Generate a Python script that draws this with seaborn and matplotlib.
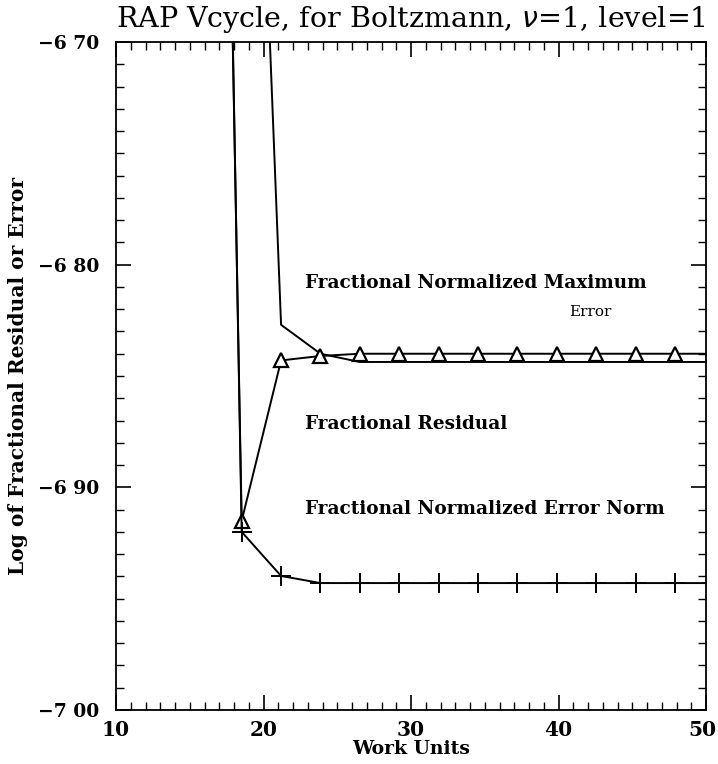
import matplotlib
matplotlib.use("Agg")
import matplotlib.pyplot as plt
import matplotlib.transforms as mtransforms
import seaborn as sns
import pandas as pd
from matplotlib.ticker import MultipleLocator, FixedLocator

sns.set_theme(style="white")
plt.rcParams['font.family'] = ['DejaVu Serif', 'DejaVu Sans']
plt.rcParams['text.color'] = 'black'
plt.rcParams['axes.labelcolor'] = 'black'
plt.rcParams['xtick.color'] = 'black'
plt.rcParams['ytick.color'] = 'black'

# Data
work_units = [15.85, 18.52, 21.19, 23.86, 26.53, 29.20, 31.87, 34.54, 37.21, 39.88, 42.55, 45.22, 47.89, 50.56]
frac_residual = [-5.97, -6.915, -6.843, -6.841, -6.840, -6.840, -6.840, -6.840, -6.840, -6.840, -6.840, -6.840, -6.840, -6.840]
frac_error_norm = [-5.94, -6.920, -6.9398, -6.943, -6.943, -6.943, -6.943, -6.943, -6.943, -6.943, -6.943, -6.943, -6.943, -6.943]
max_work_units = [18.52, 21.19, 23.86, 26.53, 29.20, 31.87, 34.54, 37.21, 39.88, 42.55, 45.22, 47.89, 50.56]
frac_max_error = [-6.38, -6.827, -6.840, -6.8437, -6.8437, -6.8437, -6.8437, -6.8437, -6.8437, -6.8437, -6.8437, -6.8437, -6.8437]

y_ticks = [-7.00, -6.90, -6.80, -6.70]
y_tick_labels = ["\u22127 00", "\u22126 90", "\u22126 80", "\u22126 70"]
x_ticks = [10, 20, 30, 40, 50]

df_res = pd.DataFrame({"x": work_units, "y": frac_residual})
df_norm = pd.DataFrame({"x": work_units, "y": frac_error_norm})
df_max = pd.DataFrame({"x": max_work_units, "y": frac_max_error})

fig = plt.figure(figsize=(7.18, 7.64), dpi=100)
ax = fig.add_axes([0.1616, 0.0707, 0.8217, 0.8743])

sns.lineplot(data=df_max, x="x", y="y", color="black", linewidth=1.4, ax=ax,
             sort=False, estimator=None)
sns.lineplot(data=df_res, x="x", y="y", color="black", linewidth=1.4, ax=ax,
             sort=False, estimator=None, marker="^", markersize=10.5,
             markerfacecolor="white", markeredgecolor="black", markeredgewidth=1.6)
sns.lineplot(data=df_norm, x="x", y="y", color="black", linewidth=1.4, ax=ax,
             sort=False, estimator=None, marker="+", markersize=14,
             markeredgecolor="black", markeredgewidth=1.4)

ax.set_xlim(10, 50)
ax.set_ylim(-7.00, -6.70)
ax.xaxis.set_major_locator(FixedLocator(x_ticks))
ax.xaxis.set_minor_locator(MultipleLocator(1))
ax.yaxis.set_major_locator(FixedLocator(y_ticks))
ax.yaxis.set_minor_locator(MultipleLocator(0.01))
ax.set_yticklabels(y_tick_labels)
ax.set_xticklabels([str(v) for v in x_ticks])

ax.tick_params(which="both", direction="in", top=True, right=True,
               bottom=True, left=True, color="black")
ax.tick_params(which="major", length=11, width=1.2)
ax.tick_params(axis="y", which="major", pad=12, labelsize=13.5)
ax.tick_params(axis="x", which="major", pad=7, labelsize=14.5)
ax.tick_params(which="minor", length=6, width=1.0)
for lab in ax.get_xticklabels() + ax.get_yticklabels():
    lab.set_fontweight("bold")
# nudge the last x tick label so it stays inside the figure
last = ax.get_xticklabels()[-1]
last.set_transform(last.get_transform() +
                   mtransforms.ScaledTranslation(-4 / 100, 0, fig.dpi_scale_trans))

for sp in ax.spines.values():
    sp.set_color("black")
    sp.set_linewidth(1.3)

ax.set_xlabel("Work Units", fontsize=13.5, fontweight="bold", labelpad=0)
ax.set_ylabel("Log of Fractional Residual or Error", fontsize=14.5, fontweight="bold")
ax.yaxis.set_label_coords(-0.149, 0.5)
ax.set_title("RAP Vcycle, for Boltzmann, $\\nu$=1, level=1", fontsize=20.5, pad=11)

ax.text(22.8, -6.8082, "Fractional Normalized Maximum", fontsize=13.3,
        fontweight="bold", ha="left", va="center")
ax.text(40.7, -6.8213, "Error", fontsize=11, ha="left", va="center")
ax.text(22.8, -6.8716, "Fractional Residual", fontsize=13.3,
        fontweight="bold", ha="left", va="center")
ax.text(22.8, -6.9097, "Fractional Normalized Error Norm", fontsize=13.3,
        fontweight="bold", ha="left", va="center")

fig.savefig("out.png", dpi=100)
